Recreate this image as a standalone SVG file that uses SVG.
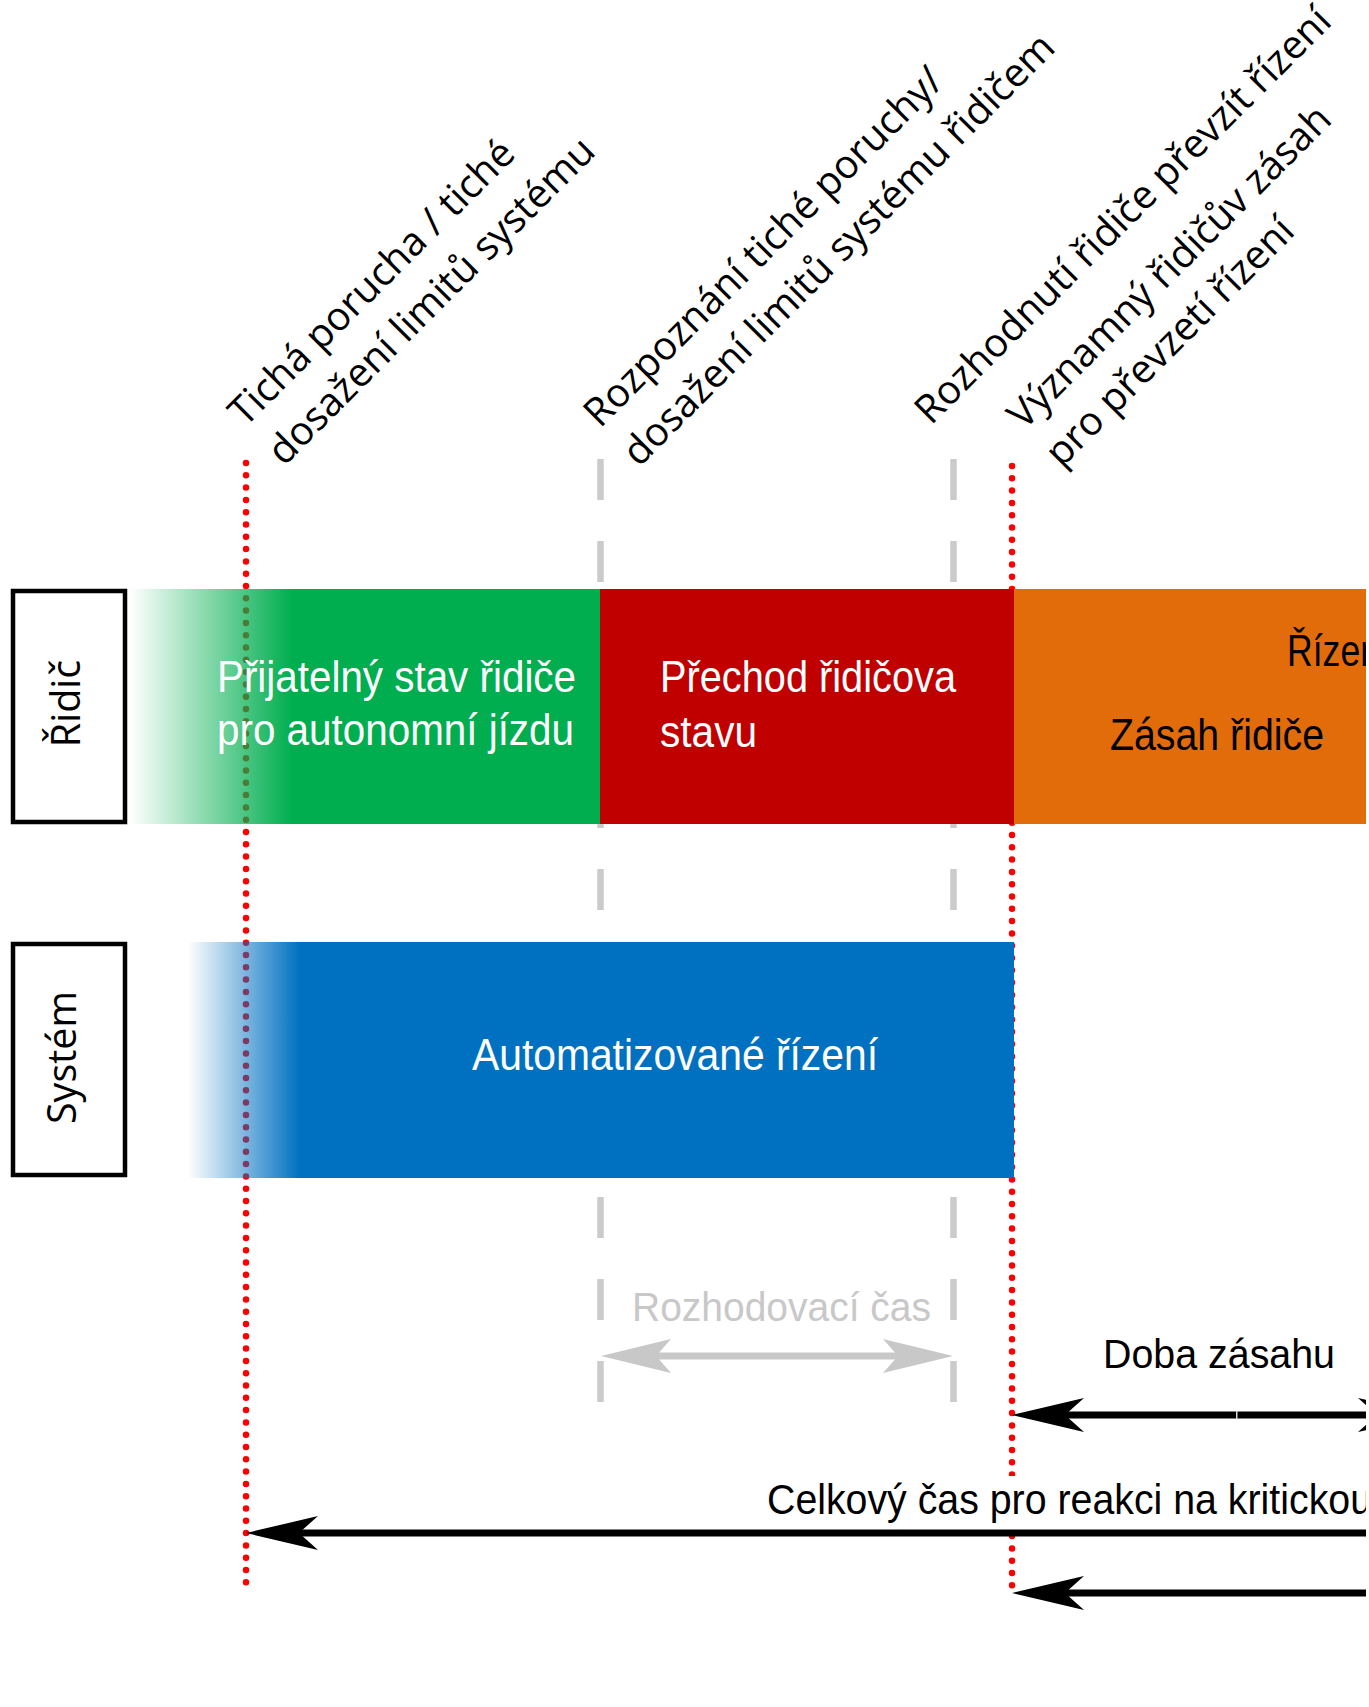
<svg xmlns="http://www.w3.org/2000/svg" width="1369" height="1707" viewBox="0 0 1369 1707">
<defs>
<style>
.lbl{font-family:"Open Sans","Noto Sans","DejaVu Sans",sans-serif;font-size:39.5px;fill:#000}
.bt{font-family:"Liberation Sans","Roboto",sans-serif;fill:#fff}
.dk{fill:#000}
.gdash{stroke:#CBCBCB;stroke-width:6.5;stroke-dasharray:41 41;fill:none}
.rdot{stroke:#FF0000;stroke-width:6.5;stroke-dasharray:0 12.3;stroke-linecap:round;fill:none}
.box{fill:#fff;stroke:#000;stroke-width:4.5}
.shaft{stroke:#000;stroke-width:7;fill:none}
</style>
<linearGradient id="gGreen" gradientUnits="userSpaceOnUse" x1="130" y1="0" x2="292" y2="0">
<stop offset="0" stop-color="#00AE4F" stop-opacity="0"/>
<stop offset="1" stop-color="#00AE4F" stop-opacity="1"/>
</linearGradient>
<linearGradient id="gBlue" gradientUnits="userSpaceOnUse" x1="188" y1="0" x2="300" y2="0">
<stop offset="0" stop-color="#0070C0" stop-opacity="0"/>
<stop offset="1" stop-color="#0070C0" stop-opacity="1"/>
</linearGradient>
<marker id="ahBlack" markerUnits="userSpaceOnUse" orient="auto-start-reverse" overflow="visible" refX="0" refY="0" markerWidth="80" markerHeight="40">
<path d="M50,0 L-22,-17 L-3,0 L-22,17 Z" fill="#000"/>
</marker>
<marker id="ahGray" markerUnits="userSpaceOnUse" orient="auto-start-reverse" overflow="visible" refX="0" refY="0" markerWidth="80" markerHeight="40">
<path d="M50,0 L-20,-17 L-5,0 L-20,17 Z" fill="#C8C8C8"/>
</marker>
</defs>
<rect x="0" y="0" width="1369" height="1707" fill="#fff"/>

<g id="guides">
<line class="gdash" x1="600.5" y1="459" x2="600.5" y2="1402"/>
<line class="gdash" x1="953.5" y1="459" x2="953.5" y2="1402"/>
<line class="rdot" x1="246" y1="463" x2="246" y2="1588"/>
<line class="rdot" x1="1012" y1="466" x2="1012" y2="1588"/>
</g>

<g id="bar-green">
<rect x="130" y="589" width="471" height="235" fill="url(#gGreen)"/>
<text class="bt" font-size="44" x="217" y="692" textLength="359" lengthAdjust="spacingAndGlyphs">Přijatelný stav řidiče</text>
<text class="bt" font-size="44" x="217" y="745" textLength="357" lengthAdjust="spacingAndGlyphs">pro autonomní jízdu</text>
</g>
<g id="bar-red">
<rect x="600" y="589" width="414" height="235" fill="#C00000"/>
<text class="bt" font-size="44" x="660" y="692" textLength="296" lengthAdjust="spacingAndGlyphs">Přechod řidičova</text>
<text class="bt" font-size="44" x="660" y="747" textLength="97" lengthAdjust="spacingAndGlyphs">stavu</text>
</g>
<g id="bar-orange">
<rect x="1014" y="589" width="352" height="235" fill="#E36C0A"/>
<text class="bt dk" font-size="44" x="1287" y="666" textLength="93" lengthAdjust="spacingAndGlyphs">Řízen</text>
<text class="bt dk" font-size="44" x="1110" y="750" textLength="214" lengthAdjust="spacingAndGlyphs">Zásah řidiče</text>
</g>
<g id="bar-blue">
<rect x="188" y="942" width="826" height="236" fill="url(#gBlue)"/>
<text class="bt" font-size="45" x="472" y="1070" textLength="406" lengthAdjust="spacingAndGlyphs">Automatizované řízení</text>
</g>

<g id="lane-ridic">
<rect class="box" x="13" y="591" width="112" height="231"/>
<text class="lbl" text-anchor="middle" transform="translate(80,703.5) rotate(-90)">Řidič</text>
</g>
<g id="lane-system">
<rect class="box" x="13" y="944" width="112" height="231"/>
<text class="lbl" text-anchor="middle" transform="translate(76,1057.5) rotate(-90)">Systém</text>
</g>

<g id="label-ticha">
<text class="lbl" transform="translate(245,428) rotate(-45)"><tspan x="0" y="0">Tichá porucha / tiché</tspan><tspan x="0" y="55">dosažení limitů systému</tspan></text>
</g>
<g id="label-rozpoznani">
<text class="lbl" transform="translate(600,429) rotate(-45)"><tspan x="0" y="0">Rozpoznání tiché poruchy/</tspan><tspan x="0" y="55">dosažení limitů systému řidičem</tspan></text>
</g>
<g id="label-rozhodnuti">
<text class="lbl" transform="translate(931,426) rotate(-45)">Rozhodnutí řidiče převzít řízení</text>
</g>
<g id="label-zasah">
<text class="lbl" transform="translate(1024,431) rotate(-45)"><tspan x="0" y="0">Významný řidičův zásah</tspan><tspan x="0" y="53">pro převzetí řízení</tspan></text>
</g>

<g id="connectors">
<line x1="651" y1="1356" x2="903" y2="1356" stroke="#C8C8C8" stroke-width="7" marker-start="url(#ahGray)" marker-end="url(#ahGray)"/>
<line class="shaft" x1="1062" y1="1415" x2="1380" y2="1415" marker-start="url(#ahBlack)" marker-end="url(#ahBlack)"/>
<rect x="1236" y="1411" width="1.5" height="8" fill="#d8d8d8"/>
<rect x="760" y="1476" width="609" height="54" fill="#fff"/>
<line class="shaft" x1="296" y1="1533" x2="1370" y2="1533" marker-start="url(#ahBlack)"/>
<line class="shaft" x1="1062" y1="1593" x2="1370" y2="1593" marker-start="url(#ahBlack)"/>
</g>

<g id="time-labels">
<text class="bt" font-size="40" style="fill:#C8C8C8" x="632" y="1321" textLength="299" lengthAdjust="spacingAndGlyphs">Rozhodovací čas</text>
<text class="bt dk" font-size="41" x="1103" y="1368" textLength="232" lengthAdjust="spacingAndGlyphs">Doba zásahu</text>
<text class="bt dk" font-size="43" x="767" y="1514" textLength="605" lengthAdjust="spacingAndGlyphs">Celkový čas pro reakci na kritickou</text>
</g>

<rect x="1366" y="0" width="3" height="1707" fill="#fff"/>
</svg>
